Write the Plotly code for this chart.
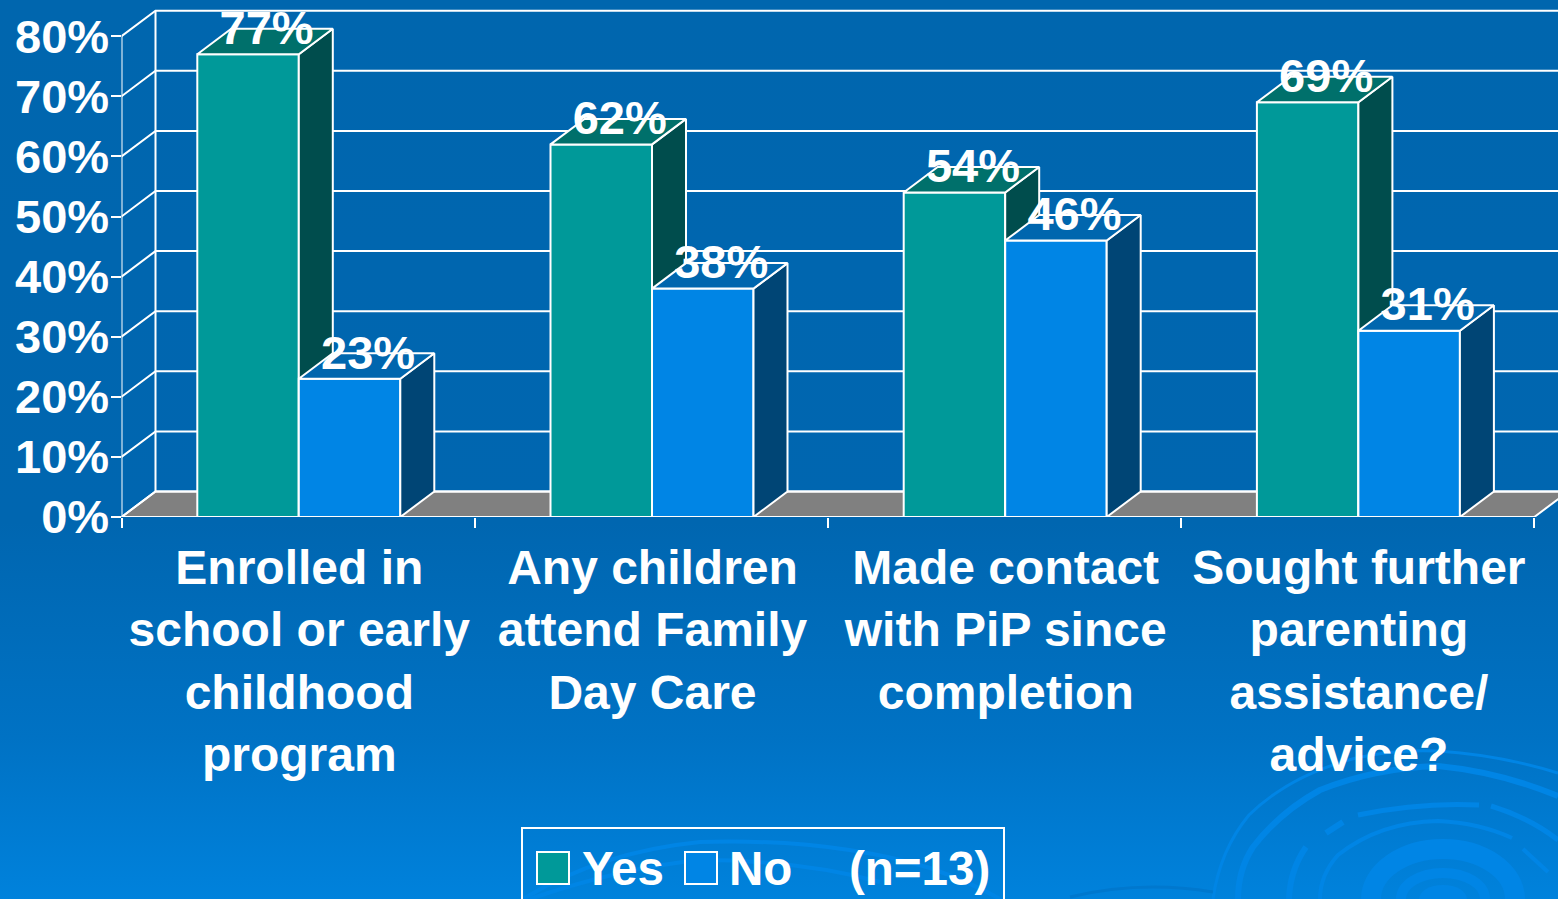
import base64
import plotly.graph_objects as go

# ---- data ----
categories = ["Enrolled in<br>school or early<br>childhood<br>program",
              "Any children<br>attend Family<br>Day Care",
              "Made contact<br>with PiP since<br>completion",
              "Sought further<br>parenting<br>assistance/<br>advice?"]
yes_values = [77, 62, 54, 69]
no_values = [23, 38, 46, 31]
y_ticks = [0, 10, 20, 30, 40, 50, 60, 70, 80]

# ---- style / geometry ----
W, H = 1558, 899
X0_PX, Y0_PX = 121.5, 517
CAT_PX, PCT_PX = 353.2, 6.01
BAR = 101.5 / CAT_PX
DX, DY = 34 / CAT_PX, 25.5 / PCT_PX
BAR_SHIFT = 0.7 / CAT_PX
LABEL_SHIFT = 1.2 / CAT_PX
TEXT_DX, TEXT_DY = 1.5 / CAT_PX, -3.5 / PCT_PX
XR = [-0.5, -0.5 + (W - X0_PX) / CAT_PX]
YR = [0, Y0_PX / PCT_PX]
FONT = "Liberation Sans, Arial, sans-serif"
YES_C, YES_TOP, YES_SIDE = "#009999", "#00706B", "#004D4D"
NO_C, NO_TOP, NO_SIDE = "#0085E5", "#0066AE", "#004575"

svg = f'''<svg xmlns="http://www.w3.org/2000/svg" width="{W}" height="{H}" viewBox="0 0 {W} {H}">
<defs><linearGradient id="g" x1="0" y1="0" x2="0" y2="1">
<stop offset="0" stop-color="#0066AE"/><stop offset="0.58" stop-color="#0066B0"/>
<stop offset="0.82" stop-color="#0072C4"/><stop offset="1" stop-color="#0082DC"/></linearGradient></defs>
<rect width="{W}" height="{H}" fill="url(#g)"/>
<g fill="none" stroke="#0085E5" stroke-linejoin="round">
<path d="M1213 899 Q1220 850 1249 815 Q1290 775 1356 758 Q1395 749 1438 751 Q1500 755 1558 773" stroke-width="3"/>
<path d="M1238 899 Q1238 870 1253 847 Q1280 812 1320 790 Q1375 768 1438 766 Q1500 772 1558 796" stroke-width="6"/>
<path d="M1289 899 Q1290 870 1306 847" stroke-width="6"/>
<path d="M1326 833 L1343 822" stroke-width="6"/>
<path d="M1358 815 Q1420 802 1479 805" stroke-width="5"/>
<path d="M1491 806 Q1530 818 1558 840" stroke-width="5"/>
<path d="M1320 899 Q1320 875 1338 855 Q1380 822 1438 821 Q1480 823 1512 838" stroke-width="4"/>
<path d="M1523 849 L1548 872" stroke-width="4"/>
<ellipse cx="1443" cy="899" rx="72" ry="50" stroke-width="20"/>
<ellipse cx="1443" cy="899" rx="42" ry="26" stroke-width="10"/>
<ellipse cx="1443" cy="899" rx="24" ry="14" fill="#0085E5" stroke="none"/>
<path d="M523 899 Q600 852 700 842 Q830 838 930 868 Q970 882 1000 899" stroke-width="4"/>
<path d="M530 899 Q620 868 700 860 Q800 860 880 882" stroke-width="4"/>
<path d="M1070 897 Q1140 880 1213 892" stroke="#0078CE" stroke-width="3"/>
</g></svg>'''
bg_src = "data:image/svg+xml;base64," + base64.b64encode(svg.encode()).decode()

fig = go.Figure()


def px(x):
    return x / W


def py(y):
    return 1 - y / H


# --- back wall, floor and front axis lines ---
xl, xr = -0.5, 3.5
fig.add_trace(go.Scatter(x=[xl, xr, xr + DX, xl + DX, xl], y=[0, 0, DY, DY, 0], mode="lines",
                         fill="toself", fillcolor="#808080", line=dict(color="white", width=2),
                         hoverinfo="skip", showlegend=False))
gx, gy = [], []
for t in y_ticks:
    gx += [xl, xl + DX, xr + DX, None]
    gy += [t, t + DY, t + DY, None]
gx += [xl + DX, xl + DX, None, xl, xl, None, xl, xr]
gy += [DY, y_ticks[-1] + DY, None, 0, y_ticks[-1], None, 0, 0]
fig.add_trace(go.Scatter(x=gx, y=gy, mode="lines", line=dict(color="white", width=2),
                         hoverinfo="skip", showlegend=False))


# --- bars: each series on its own overlaid subplot so that it paints over the previous one ---
def add_series(name, values, offset, front, top, side, xa, ya):
    fig.add_trace(go.Bar(x=list(range(len(values))), y=values, name=name, width=BAR, offset=offset,
                         marker=dict(color=front, line=dict(color="white", width=2)),
                         xaxis=xa, yaxis=ya, showlegend=False))
    for i, v in enumerate(values):
        a, b = i + offset, i + offset + BAR
        fig.add_trace(go.Scatter(x=[b, b + DX, b + DX, b, b], y=[0, DY, v + DY, v, 0], mode="lines",
                                 fill="toself", fillcolor=side, line=dict(color="white", width=2),
                                 xaxis=xa, yaxis=ya, hoverinfo="skip", showlegend=False))
        fig.add_trace(go.Scatter(x=[a, b, b + DX, a + DX, a], y=[v, v, v + DY, v + DY, v], mode="lines",
                                 fill="toself", fillcolor=top, line=dict(color="white", width=2),
                                 xaxis=xa, yaxis=ya, hoverinfo="skip", showlegend=False))


add_series("Yes", yes_values, -BAR + BAR_SHIFT, YES_C, YES_TOP, YES_SIDE, "x2", "y2")
add_series("No", no_values, BAR_SHIFT, NO_C, NO_TOP, NO_SIDE, "x3", "y3")

# --- data labels ---
for values, offset in ((yes_values, -BAR + BAR_SHIFT), (no_values, BAR_SHIFT)):
    fig.add_trace(go.Scatter(x=[i + offset + BAR / 2 + DX / 2 + TEXT_DX for i in range(len(values))],
                             y=[v + DY + TEXT_DY for v in values], mode="text",
                             text=[f"{v}%" for v in values], textposition="middle center",
                             textfont=dict(family=FONT, size=47, color="white", weight="bold"),
                             cliponaxis=False,
                             xaxis="x3", yaxis="y3", hoverinfo="skip", showlegend=False))

# --- legend box ---
shapes = [
    dict(type="rect", xref="paper", yref="paper", x0=px(522), x1=px(1004), y0=py(910), y1=py(828),
         line=dict(color="white", width=2), fillcolor="rgba(0,0,0,0)"),
    dict(type="rect", xref="paper", yref="paper", x0=px(537), x1=px(569), y0=py(884), y1=py(852),
         line=dict(color="white", width=2), fillcolor=YES_C),
    dict(type="rect", xref="paper", yref="paper", x0=px(685), x1=px(717), y0=py(884), y1=py(852),
         line=dict(color="white", width=2), fillcolor=NO_C),
]
annotations = [
    dict(text=t, xref="paper", yref="paper", x=px(x), y=py(868), xanchor="left", yanchor="middle",
         showarrow=False, font=dict(family=FONT, size=47.5, color="white"), borderpad=0, borderwidth=0)
    for t, x in (("<b>Yes</b>", 582), ("<b>No</b>", 729), ("<b>(n=13)</b>", 849))
]

base_x = dict(range=XR, domain=[X0_PX / W, 1], showgrid=False, zeroline=False, automargin=False)
base_y = dict(range=YR, domain=[1 - Y0_PX / H, 1], showgrid=False, zeroline=False, automargin=False)

fig.update_layout(
    width=W, height=H, autosize=False, margin=dict(l=0, r=0, t=0, b=0, pad=0),
    paper_bgcolor="#0066AE", plot_bgcolor="rgba(0,0,0,0)",
    font=dict(family=FONT, color="white"), showlegend=False, hovermode=False,
    images=[dict(source=bg_src, xref="paper", yref="paper", x=0, y=1, sizex=1, sizey=1,
                 xanchor="left", yanchor="top", sizing="stretch", layer="below")],
    shapes=shapes, annotations=annotations,
    xaxis=dict(**base_x, tickmode="array", tickvals=[i + LABEL_SHIFT for i in range(len(categories))],
               ticktext=categories,
               tickangle=0, ticks="", showline=False, ticklabelstandoff=18,
               tickfont=dict(family=FONT, size=48, color="white", weight="bold"),
               minor=dict(tickmode="array", tickvals=[-0.5, 0.5, 1.5, 2.5, 3.5], ticks="outside",
                          ticklen=10, tickwidth=2, tickcolor="white", showgrid=False)),
    yaxis=dict(**base_y, tickmode="array", tickvals=y_ticks, ticktext=[f"{t}%" for t in y_ticks],
               ticks="outside", ticklen=10, tickwidth=2, tickcolor="white", showline=False,
               ticklabelstandoff=-8,
               tickfont=dict(family=FONT, size=47, color="white", weight="bold")),
    xaxis2=dict(**base_x, overlaying="x", anchor="y2", visible=False),
    yaxis2=dict(**base_y, overlaying="y", anchor="x2", visible=False),
    xaxis3=dict(**base_x, overlaying="x", anchor="y3", visible=False),
    yaxis3=dict(**base_y, overlaying="y", anchor="x3", visible=False),
)

fig.write_html("out.html", config=dict(displayModeBar=False),
               post_script="document.body.style.margin='0';document.body.style.overflow='hidden';")
